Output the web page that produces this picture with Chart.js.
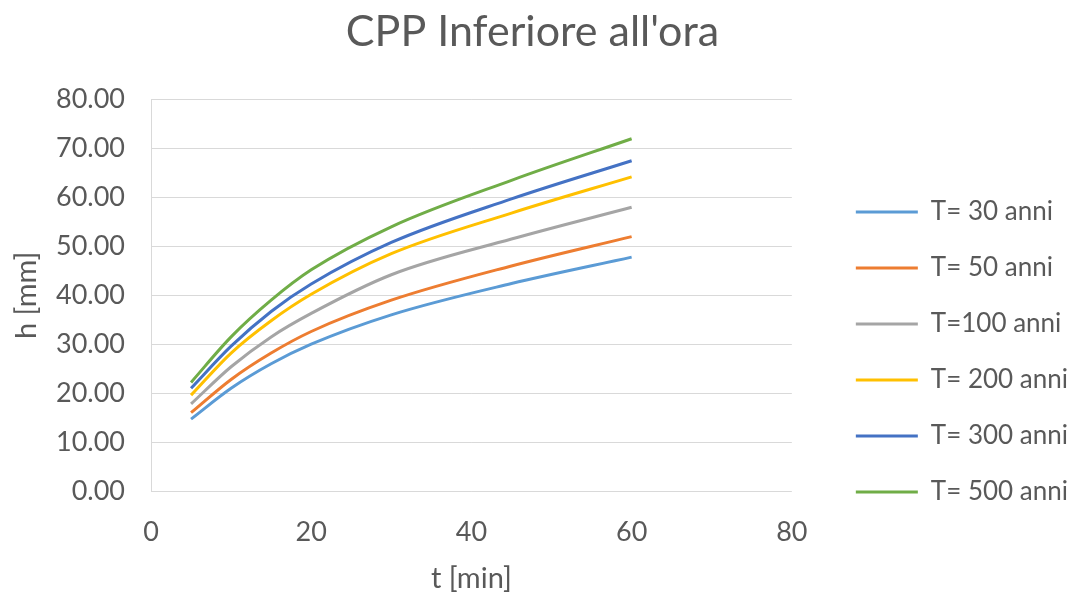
<!DOCTYPE html>
<html lang="it">
<head>
    <meta charset="UTF-8">
    <title>CPP Inferiore all'ora</title>
    <script src="https://cdn.jsdelivr.net/npm/chart.js"></script>
    <style>
        html, body { margin: 0; padding: 0; background: #fff; }
        #wrap { width: 1075px; height: 596px; }
    </style>
</head>
<body>
    <div id="wrap"><canvas id="myChart"></canvas></div>
    <script>
        // durate (min) e altezze di pioggia (mm)
        const durations = [5, 10, 15, 20, 30, 45, 60];
        const seriesLabels = ['T= 30 anni', 'T= 50 anni', 'T=100 anni', 'T= 200 anni', 'T= 300 anni', 'T= 500 anni'];
        const h30 = [14.7, 21.0, 26.0, 30.0, 36.0, 42.4, 47.8];
        const h50 = [16.0, 22.8, 28.2, 32.6, 39.0, 46.0, 52.0];
        const h100 = [17.8, 25.4, 31.5, 36.3, 44.2, 51.5, 58.0];
        const h200 = [19.6, 28.2, 34.8, 40.2, 48.5, 56.8, 64.2];
        const h300 = [21.0, 29.6, 36.7, 42.3, 50.8, 59.7, 67.5];
        const h500 = [22.2, 31.5, 39.0, 45.2, 54.0, 63.5, 72.0];
        const xTicks = [0, 20, 40, 60, 80];
        const yTicks = [0, 10, 20, 30, 40, 50, 60, 70, 80];

        const colors = ['#5B9BD5', '#ED7D31', '#A5A5A5', '#FFC000', '#4472C4', '#70AD47'];
        const allSeries = [h30, h50, h100, h200, h300, h500];
        const textColor = '#595959';
        const fontFamily = 'Lato, "Open Sans", sans-serif';

        // sposta legenda e titolo come nel grafico Excel
        const legendPlacement = {
            id: 'legendPlacement',
            afterLayout(chart) {
                const lg = chart.legend;
                const dx = chart.chartArea.right + 34 - lg.left;
                const dy = 169 - lg.top;
                lg.left += dx; lg.right += dx;
                lg.top += dy; lg.bottom += dy;
                const tb = chart.titleBlock;
                tb.left = 0;
                tb.right = chart.width - 10;
            }
        };

        const ctx = document.getElementById('myChart').getContext('2d');
        const myChart = new Chart(ctx, {
            type: 'scatter',
            data: {
                datasets: allSeries.map((vals, i) => ({
                    label: seriesLabels[i],
                    data: durations.map((t, j) => ({ x: t, y: vals[j] })),
                    showLine: true,
                    borderColor: colors[i],
                    backgroundColor: colors[i],
                    borderWidth: 3,
                    pointRadius: 0,
                    cubicInterpolationMode: 'monotone'
                }))
            },
            options: {
                responsive: true,
                maintainAspectRatio: false,
                animation: false,
                layout: { padding: { left: 6, right: 31, top: 0, bottom: 0 } },
                plugins: {
                    title: {
                        display: true,
                        text: "CPP Inferiore all'ora",
                        color: textColor,
                        font: { family: fontFamily, size: 43, weight: 'normal' },
                        padding: { top: 6, bottom: 42 }
                    },
                    legend: {
                        position: 'right',
                        align: 'start',
                        labels: {
                            color: textColor,
                            font: { family: fontFamily, size: 26 },
                            boxWidth: 62,
                            boxHeight: 3,
                            padding: 30,
                            generateLabels(chart) {
                                return chart.data.datasets.map((ds, i) => ({
                                    text: ds.label,
                                    fillStyle: ds.borderColor,
                                    strokeStyle: ds.borderColor,
                                    lineWidth: 0,
                                    fontColor: textColor,
                                    datasetIndex: i
                                }));
                            }
                        }
                    },
                    tooltip: { enabled: false }
                },
                scales: {
                    x: {
                        type: 'linear',
                        min: 0,
                        max: 80,
                        afterBuildTicks: axis => { axis.ticks = xTicks.map(v => ({ value: v })); },
                        afterFit: axis => { axis.height = 105; },
                        grid: { display: false, drawTicks: false },
                        border: { display: false },
                        ticks: {
                            color: textColor,
                            font: { family: fontFamily, size: 27 },
                            padding: 25
                        },
                        title: {
                            display: true,
                            text: 't [min]',
                            color: textColor,
                            font: { family: fontFamily, size: 29 },
                            padding: { top: 0, bottom: 0 }
                        }
                    },
                    y: {
                        min: 0,
                        max: 80,
                        afterBuildTicks: axis => { axis.ticks = yTicks.map(v => ({ value: v })); },
                        afterFit: axis => { axis.width = 145; },
                        grid: { color: '#D9D9D9', lineWidth: 1, drawTicks: false },
                        border: { display: true, color: '#D9D9D9', width: 1 },
                        ticks: {
                            color: textColor,
                            font: { family: fontFamily, size: 27 },
                            padding: 26,
                            callback: v => v.toFixed(2)
                        },
                        title: {
                            display: true,
                            text: 'h [mm]',
                            color: textColor,
                            font: { family: fontFamily, size: 29 },
                            padding: { top: 3, bottom: 0 }
                        }
                    }
                }
            },
            plugins: [legendPlacement]
        });
    </script>
</body>
</html>
